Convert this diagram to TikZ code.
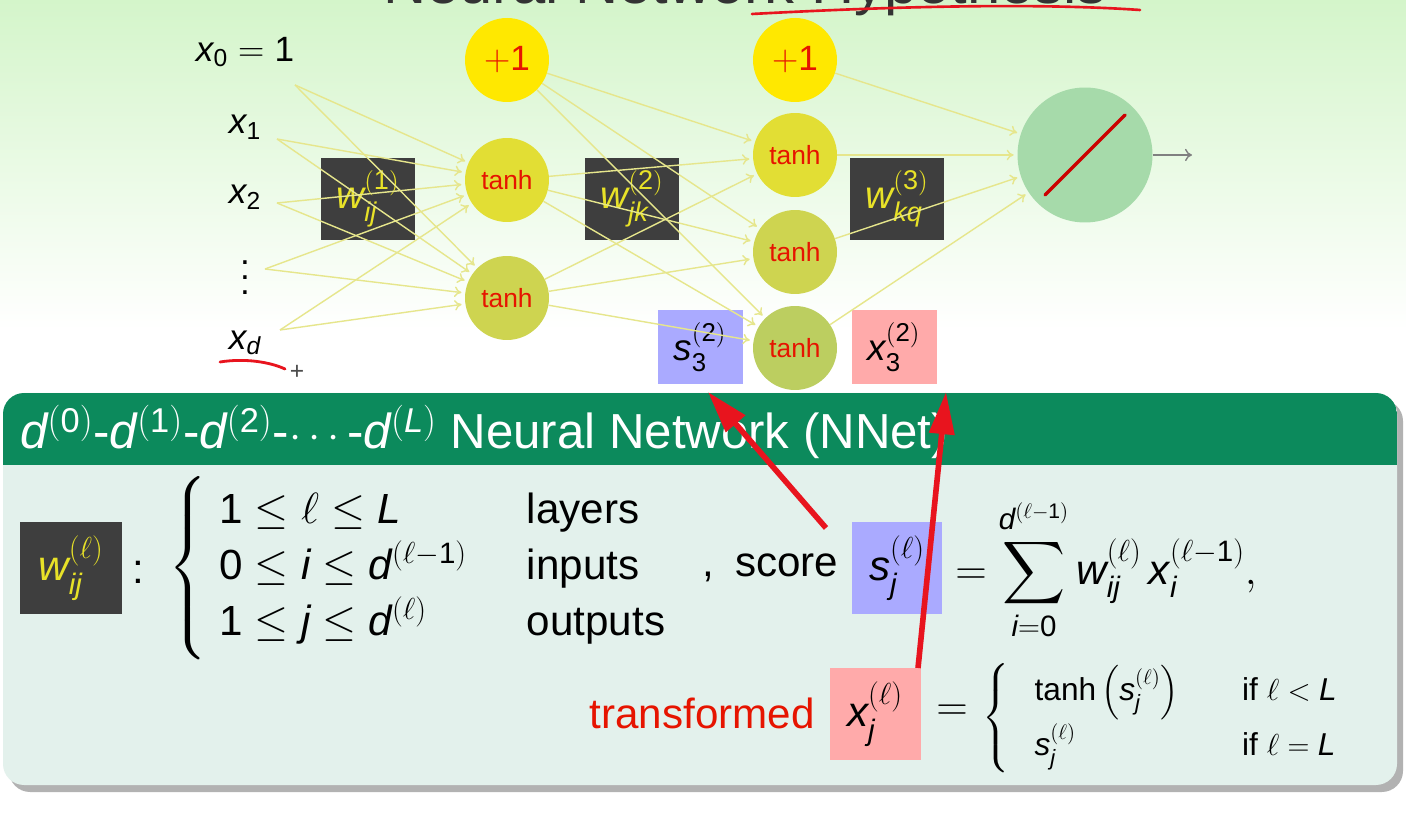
\documentclass[tikz,border=0pt]{standalone}
\usepackage{amsmath}
\usepackage{mathspec}
\setmainfont{Liberation Sans}
\setmathsfont(Digits,Latin){Liberation Sans}
\setmathrm{Liberation Sans}
\usepackage{xcolor}
\usepackage{tikz}
\usetikzlibrary{arrows.meta}
\usetikzlibrary{positioning,calc}

\definecolor{bggreen}{RGB}{212,245,202}
\definecolor{biasyellow}{RGB}{255,232,0}
\definecolor{tanhA}{RGB}{226,222,52}
\definecolor{tanhB}{RGB}{206,212,80}
\definecolor{tanhC}{RGB}{188,206,96}
\definecolor{outgreen}{RGB}{166,218,170}
\definecolor{wgray}{RGB}{62,62,62}
\definecolor{wyellow}{RGB}{232,226,40}
\definecolor{linkyellow}{RGB}{230,230,140}
\definecolor{sblue}{RGB}{170,170,255}
\definecolor{xpink}{RGB}{255,170,170}
\definecolor{hdrgreen}{RGB}{12,138,92}
\definecolor{bodymint}{RGB}{227,241,236}
\definecolor{notered}{RGB}{232,20,30}
\definecolor{tanhred}{RGB}{230,20,0}
\renewcommand{\arraystretch}{1.1}

\begin{document}
\begin{tikzpicture}[x=0.02cm, y=-0.02cm,
    neuron/.style={circle, minimum size=1.68cm, inner sep=0pt, text=tanhred, font=\fontsize{15}{18}\selectfont},
    bias/.style={neuron, fill=biasyellow, font=\fontsize{20}{24}\selectfont},
    wbox/.style={rectangle, fill=wgray, text=wyellow, minimum width=1.88cm, minimum height=1.64cm, font=\fontsize{22}{26}\selectfont},
    tagbox/.style={rectangle, minimum width=1.7cm, minimum height=1.5cm, font=\fontsize{21}{25}\selectfont},
    inlabel/.style={inner sep=0pt, font=\fontsize{20}{24}\selectfont},
    body/.style={inner sep=0pt, font=\fontsize{24}{29}\selectfont},
    link/.style={draw=linkyellow, line width=0.8pt, shorten >=2pt, -{To[length=4pt,width=6pt]}},
    note/.style={draw=notered, line width=3.2pt, -{Triangle[length=24pt,width=14pt]}},
  ]
  \useasboundingbox (0,0) rectangle (1406,830);

  % background
  \fill[top color=bggreen, bottom color=white] (0,0) rectangle (1406,330);
  \fill[white] (0,330) rectangle (1406,830);

  % title (cut off at the top)
  \node[anchor=base, text=black!80, font=\fontsize{34}{40}\selectfont] (title) at (745,4) {Neural Network Hypothesis};
  \draw[notered, line width=1.5pt, line cap=round] (752,14) .. controls (900,6) and (1040,3) .. (1140,10);

  % weight boxes
  \node[wbox] (w1) at (368,199) {$w_{ij}^{(1)}$};
  \node[wbox] (w2) at (632,199) {$w_{jk}^{(2)}$};
  \node[wbox] (w3) at (897,199) {$w_{kq}^{(3)}$};
  \node[tagbox, fill=sblue] (s3) at (700,347) {$s_3^{(2)}$};
  \node[tagbox, fill=xpink] (x3) at (894,347) {$x_3^{(2)}$};

  % inputs
  \node[inlabel] (x0) at (245,52)  {$x_0 = 1$};
  \node[inlabel] (x1) at (245,127) {$x_1$};
  \node[inlabel] (x2) at (245,197) {$x_2$};
  \node[inlabel] (xv) at (245,278) {\vbox{\baselineskip=8.5pt\hbox{.}\hbox{.}\hbox{.}}};
  \node[inlabel] (xd) at (245,343) {$x_d$};
  \coordinate (i0) at (295,85);
  \coordinate (i1) at (277,139);
  \coordinate (i2) at (277,203);
  \coordinate (i3) at (265,269);
  \coordinate (i4) at (280,330);

  % hidden layers
  \node[bias] (b1) at (507,60) {$+1$};
  \node[neuron, fill=tanhA] (h11) at (507,180) {tanh};
  \node[neuron, fill=tanhB] (h12) at (507,298) {tanh};
  \node[bias] (b2) at (795,60) {$+1$};
  \node[neuron, fill=tanhA] (h21) at (795,155) {tanh};
  \node[neuron, fill=tanhB] (h22) at (795,252) {tanh};
  \node[neuron, fill=tanhC] (h23) at (795,348) {tanh};

  % output
  \node[circle, fill=outgreen, minimum size=2.7cm, inner sep=0pt] (out) at (1085,155) {};
  \draw[red!80!black, line width=2pt, line cap=round] ($(out)+(-40,40)$) -- ($(out)+(40,-40)$);
  \coordinate (y) at (1192,155);
  \draw[gray, line width=0.8pt, -{To[length=4pt,width=7pt]}] (out) -- (y);

  % links
  \foreach \s in {i0,i1,i2,i3,i4}
    \foreach \t in {h11,h12}
      \draw[link] (\s) -- (\t);
  \foreach \s in {b1,h11,h12}
    \foreach \t in {h21,h22,h23}
      \draw[link] (\s) -- (\t);
  \foreach \s in {b2,h21,h22,h23}
    \draw[link] (\s) -- (out);

  % pen marks
  \draw[notered, line width=1.6pt, line cap=round] (220,362) .. controls (245,358) and (270,362) .. (285,369);
  \node[text=black!70, font=\fontsize{14}{16}\selectfont] (cursor) at (297,372) {+};

  % definition block
  \fill[black!30, rounded corners=12] (9,400) rectangle (1403,792);
  \fill[bodymint, rounded corners=12] (3,393) rectangle (1397,785);
  \begin{scope}
    \clip[rounded corners=12] (3,393) rectangle (1397,785);
    \fill[hdrgreen] (3,393) rectangle (1397,465);
  \end{scope}
  \node[anchor=west, text=white, inner sep=0pt, font=\fontsize{28}{33}\selectfont] (head) at (20,432)
    {$d^{(0)}$-$d^{(1)}$-$d^{(2)}$-$\cdots$-$d^{(L)}$ Neural Network (NNet)};

  \node[wbox, minimum width=2.06cm, minimum height=1.84cm, font=\fontsize{24}{29}\selectfont] (wl) at (71,568) {$w_{ij}^{(\ell)}$};
  \node[body] (colon) at (138,572) {:};
  \node[body, anchor=west] (ranges) at (168,568)
    {$\left\{\begin{array}{@{\;}l@{\hspace{34pt}}l}
      1\le\ell\le L & \text{layers}\\
      0\le i\le d^{(\ell-1)} & \text{inputs}\\
      1\le j\le d^{(\ell)} & \text{outputs}
    \end{array}\right.$};
  \node[body, anchor=west] (score) at (702,568) {,\enspace score};
  \node[tagbox, fill=sblue, minimum width=1.8cm, minimum height=1.84cm, font=\fontsize{24}{29}\selectfont] (sj) at (897,568) {$s_j^{(\ell)}$};
  \node[body, anchor=west] (sum) at (955,570)
    {$=\displaystyle\sum_{i=0}^{d^{(\ell-1)}} w_{ij}^{(\ell)}\,x_i^{(\ell-1)},$};

  \node[body, anchor=east, text=tanhred] (trans) at (815,713) {transformed};
  \node[tagbox, fill=xpink, minimum width=1.82cm, minimum height=1.84cm, font=\fontsize{24}{29}\selectfont] (xj) at (875,714) {$x_j^{(\ell)}$};
  \node[body] (eq) at (952,713) {$=$};
  \node[anchor=west, inner sep=0pt, font=\fontsize{18}{22}\selectfont] (cases) at (982,718)
    {$\left\{\begin{array}{@{\;\;\;}l@{\hspace{36pt}}l}
      \tanh\left(s_j^{(\ell)}\right) & \text{if } \ell<L\\[6pt]
      s_j^{(\ell)} & \text{if } \ell=L
    \end{array}\right.$};

  % annotation arrows
  \coordinate (sfrom) at (826,528);
  \coordinate (sto) at (708,392);
  \coordinate (xfrom) at (918,668);
  \coordinate (xto) at (946,392);
  \draw[note] (sfrom) -- (sto);
  \draw[note] (xfrom) -- (xto);

\end{tikzpicture}
\end{document}
